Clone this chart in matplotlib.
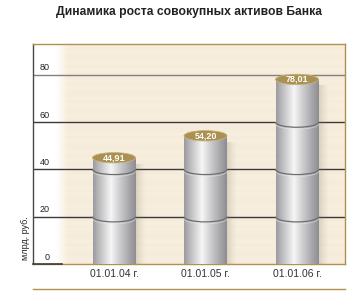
import numpy as np
import matplotlib
matplotlib.use("Agg")
import matplotlib.pyplot as plt
from matplotlib.patches import Ellipse, Arc, Rectangle
from matplotlib.lines import Line2D
from matplotlib.colors import LinearSegmentedColormap

categories = ["01.01.04 г.", "01.01.05 г.", "01.01.06 г."]
values = [44.91, 54.20, 78.01]
value_labels = ["44,91", "54,20", "78,01"]
yticks = [0, 20, 40, 60, 80]
title = "Динамика роста совокупных активов Банка"
ylabel = "млрд. руб."

W, H = 362, 300
fig = plt.figure(figsize=(W / 100, H / 100), dpi=100)
fig.patch.set_facecolor("white")

ax_l, ax_r, ax_t, ax_b = 33, 345, 44, 264
ax = fig.add_axes([ax_l / W, 1 - ax_b / H, (ax_r - ax_l) / W, (ax_b - ax_t) / H])
ymax = 93.0
px_per_unit = 91.5
x0 = -(114 - ax_l) / px_per_unit
x1 = x0 + (ax_r - ax_l) / px_per_unit
ax.set_facecolor("white")

narrow = ["Liberation Sans Narrow", "Liberation Sans", "DejaVu Sans"]
sans = ["Liberation Sans", "DejaVu Sans"]

# background beige with stripes and left fade
bg_left = x0 + (62 - ax_l) / px_per_unit
nrows, ncols = 74, 300
base = np.array([246, 237, 220]) / 255.0
rows = np.ones(nrows)
rows[::2] = 1.008
rows[1::3] = 0.995
img = np.ones((nrows, ncols, 3))
fade = np.clip(np.arange(ncols) / 12.0, 0, 1)
for r in range(nrows):
    col = np.clip(base * rows[r], 0, 1)
    img[r] = (1 - fade)[:, None] * 1.0 + fade[:, None] * col[None, :]
ax.imshow(img, extent=[bg_left - 6 / px_per_unit, x1, 0, ymax], aspect="auto",
          interpolation="bilinear", zorder=0)
ax.set_xlim(x0, x1)
ax.set_ylim(0, ymax)

# gridlines
for v in yticks[1:]:
    c = "#808080" if v == 80 else "#3a3a3a"
    ax.axhline(v, color=c, lw=1.0, zorder=1)

# tick labels as text above lines
for v in yticks:
    ax.text(x0 + (50 - ax_l) / px_per_unit, v + 1.0, str(v), ha="right", va="bottom",
            fontsize=6.5, family=narrow, color="#222222", zorder=3)

# cylinders
bw = 43 / px_per_unit
eh = 4.4
cmap = LinearSegmentedColormap.from_list("cyl", [
    (0.0, "#9c9ca0"), (0.2, "#c8c8ca"), (0.42, "#f6f6f6"), (0.6, "#d2d2d4"),
    (0.85, "#a6a6aa"), (1.0, "#8e8e92")])
grad = np.linspace(0, 1, 200)[None, :]
for i, v in enumerate(values):
    xl = i - bw / 2
    # soft shadow
    nsh = 10
    for k in range(nsh):
        a = 0.22 * (1 - k / nsh) ** 1.5
        ax.add_patch(Rectangle((xl + bw + k * 1.0 / px_per_unit, 0),
                               1.0 / px_per_unit, v - 2.5, facecolor="#7a6e5c",
                               alpha=a, lw=0, zorder=2))
    im = ax.imshow(grad, cmap=cmap, extent=[xl, xl + bw, 0, v], aspect="auto", zorder=4)
    clip = Rectangle((xl, 0), bw, v, transform=ax.transData)
    im.set_clip_path(clip)
    for s in yticks[1:]:
        if s < v - 3:
            ax.add_patch(Arc((i, s), bw, eh, theta1=180, theta2=360, color="#6e6e72",
                             lw=0.9, zorder=5))
            ax.add_patch(Arc((i, s - 0.8), bw, eh, theta1=180, theta2=360, color="#e8e8e8",
                             lw=0.6, alpha=0.6, zorder=5))
    ax.add_patch(Ellipse((i, v), bw, eh, facecolor="#aa9052", edgecolor="#c8b47a",
                         lw=0.6, zorder=6))
    ax.text(i, v, value_labels[i], ha="center", va="center", fontsize=6.5,
            fontweight="bold", family=sans, color="white", zorder=7)

ax.set_xticks([])
ax.set_yticks([])
for side in ["top", "right", "bottom"]:
    ax.spines[side].set_color("#b0914f")
    ax.spines[side].set_linewidth(1.0)
ax.spines["left"].set_color("#4a4a4a")
ax.spines["left"].set_linewidth(1.0)
ax.plot([x0, bg_left], [0, 0], color="#3a3a3a", lw=1.2, zorder=8, clip_on=False)

fig.text(25 / W, 1 - 238 / H, ylabel, rotation=90, ha="center", va="center",
         fontsize=6.5, family=narrow, color="#222222")

for i, c in enumerate(categories):
    ax.text(i, -4.3, c, ha="center", va="center", fontsize=7.5, family=sans,
            color="#333333", clip_on=False)

fig.text(189 / W, 1 - 12 / H, title, ha="center", va="center", fontsize=8.7,
         fontweight="bold", family=sans, color="#222222")

fig.add_artist(Line2D([ax_l / W, ax_r / W], [1 - 289 / H, 1 - 289 / H],
                      color="#b0914f", lw=1.0))

fig.savefig("out.png", dpi=100)
